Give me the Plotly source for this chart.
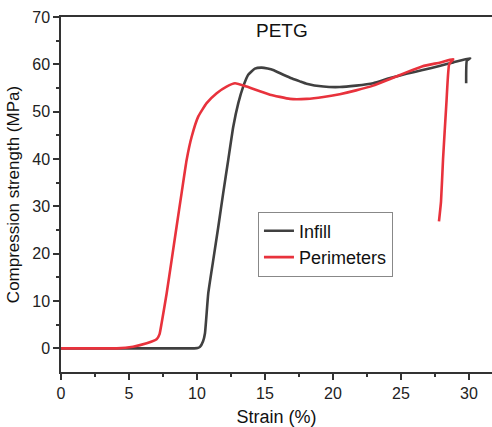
import plotly.graph_objects as go

# Compression test curves for PETG specimens
infill_strain = [0, 2, 4, 6, 8, 9.8, 10.05, 10.22, 10.45, 10.59, 10.83, 11.2, 11.57, 11.93,
                 12.3, 12.67, 13.04, 13.4, 13.77, 14.26, 14.76, 15.2, 15.6, 16.35, 17.0,
                 17.57, 18.06, 19.3, 20.5, 21.7, 22.96, 24.2, 25.4, 26.6, 27.9, 28.85,
                 30.1, 29.85, 29.8]
infill_stress = [0, 0, 0, 0, 0, 0, 0.05, 0.3, 1.5, 3.2, 11.6, 18.7, 25.7, 32.8,
                 39.8, 46.8, 51.8, 55.3, 57.8, 59.1, 59.3, 59.1, 58.8, 57.8, 57.0,
                 56.4, 55.9, 55.3, 55.2, 55.5, 56.0, 57.1, 58.0, 58.8, 59.7, 60.4,
                 61.3, 60.8, 56.0]

perim_strain = [0, 2, 4.1, 5.3, 6.3, 7.03, 7.25, 7.4, 7.77, 8.14, 8.5, 8.87, 9.24, 9.61,
                10.1, 10.71, 11.45, 12.18, 12.8, 13.65, 14.63, 15.37, 16.84, 18.06, 19.3,
                20.5, 21.7, 22.96, 24.2, 25.4, 26.6, 27.9, 28.85, 28.55, 28.35, 28.1,
                27.95, 27.8]
perim_stress = [0, 0, 0, 0.35, 1.05, 1.9, 3.0, 5.3, 11.6, 18.7, 25.7, 32.8, 39.8, 44.7,
                49.0, 51.8, 53.9, 55.3, 56.0, 55.3, 54.3, 53.6, 52.7, 52.7, 53.1,
                53.7, 54.5, 55.5, 56.9, 58.3, 59.6, 60.4, 61.1, 60.0, 52.0, 40.0,
                31.0, 26.8]

series_names = ["Infill", "Perimeters"]
series_colors = ["#404040", "#e8323c"]

FONT = "Arial, Liberation Sans, sans-serif"

fig = go.Figure()
fig.add_trace(go.Scatter(x=infill_strain, y=infill_stress, mode="lines",
                         name=series_names[0],
                         line=dict(color=series_colors[0], width=2.6, shape="spline",
                                   smoothing=0.4)))
fig.add_trace(go.Scatter(x=perim_strain, y=perim_stress, mode="lines",
                         name=series_names[1],
                         line=dict(color=series_colors[1], width=2.6, shape="spline",
                                   smoothing=0.4)))

fig.add_annotation(text="PETG", x=16.23, y=67.2, xref="x", yref="y",
                   showarrow=False, font=dict(family=FONT, size=19, color="#111"))

fig.update_layout(
    width=492, height=427,
    margin=dict(l=61, r=0, t=17, b=55),
    paper_bgcolor="white", plot_bgcolor="white",
    font=dict(family=FONT, size=16, color="#222"),
    showlegend=True,
    legend=dict(x=0.457, y=0.452, xanchor="left", yanchor="top",
                bgcolor="white", bordercolor="#888", borderwidth=1,
                font=dict(family=FONT, size=18, color="#111"),
                tracegroupgap=0, itemwidth=30),
)

fig.update_xaxes(
    range=[0, 31.7], tickmode="array", tickvals=[0, 5, 10, 15, 20, 25, 30],
    showgrid=False, zeroline=False, showline=True, linecolor="#333", linewidth=1.5,
    mirror=True, ticks="outside", ticklen=6, tickwidth=1.5, tickcolor="#333",
    minor=dict(tickvals=[2.5, 7.5, 12.5, 17.5, 22.5, 27.5], ticks="outside",
               ticklen=3, tickwidth=1.5, tickcolor="#333"),
    tickfont=dict(family=FONT, size=16, color="#222"),
    title=dict(text="Strain (%)", font=dict(family=FONT, size=18, color="#111"),
               standoff=13),
)
fig.update_yaxes(
    range=[-5, 70], tickmode="array", tickvals=[0, 10, 20, 30, 40, 50, 60, 70],
    showgrid=False, zeroline=False, showline=True, linecolor="#333", linewidth=1.5,
    ticks="outside", ticklen=6, tickwidth=1.5, tickcolor="#333",
    minor=dict(tickvals=[5, 15, 25, 35, 45, 55, 65], ticks="outside",
               ticklen=3, tickwidth=1.5, tickcolor="#333"),
    tickfont=dict(family=FONT, size=16, color="#222"),
    title=dict(text="Compression strength (MPa)",
               font=dict(family=FONT, size=17, color="#111"), standoff=8),
)

fig.write_html("out.html")
